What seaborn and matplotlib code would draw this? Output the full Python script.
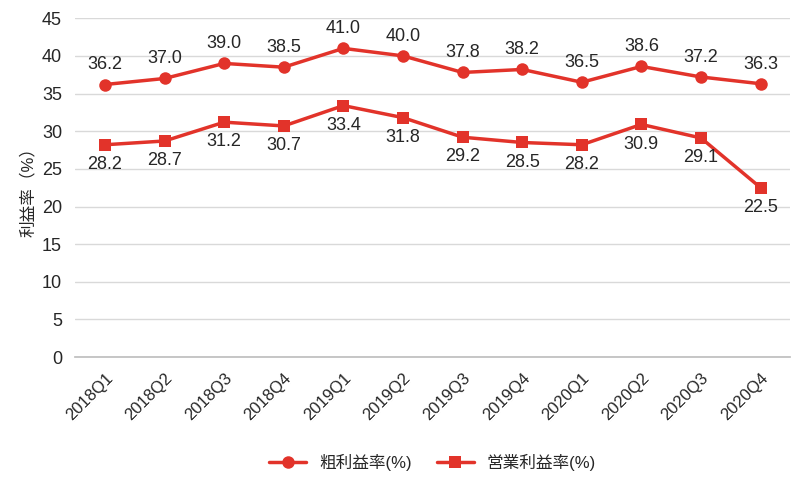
import matplotlib
matplotlib.use("Agg")
import matplotlib.pyplot as plt
import seaborn as sns
import pandas as pd

quarters = ["2018Q1", "2018Q2", "2018Q3", "2018Q4", "2019Q1", "2019Q2",
            "2019Q3", "2019Q4", "2020Q1", "2020Q2", "2020Q3", "2020Q4"]
gross = [36.2, 37.0, 39.0, 38.5, 41.0, 40.0, 37.8, 38.2, 36.5, 38.6, 37.2, 36.3]
operating = [28.2, 28.7, 31.2, 30.7, 33.4, 31.8, 29.2, 28.5, 28.2, 30.9, 29.1, 22.5]

sns.set_theme(style="white")
plt.rcParams['font.family'] = ['Liberation Sans', 'Noto Sans CJK JP']

df = pd.DataFrame({"q": list(range(len(quarters))) * 2,
                   "v": gross + operating,
                   "s": ["粗利益率(%)"] * 12 + ["営業利益率(%)"] * 12})

red = "#E2332A"
fig = plt.figure(figsize=(8, 4.8), dpi=100)
ax = fig.add_axes([0.094, 0.256, 0.894, 0.706])
sns.lineplot(data=df, x="q", y="v", hue="s", style="s",
             markers={"粗利益率(%)": "o", "営業利益率(%)": "s"}, dashes=False,
             palette={"粗利益率(%)": red, "営業利益率(%)": red},
             markersize=9, linewidth=2.5, markeredgewidth=0, ax=ax)

for i, (g, o) in enumerate(zip(gross, operating)):
    ax.annotate(f"{g:.1f}", (i, g), xytext=(0, 8), textcoords="offset points",
                ha="center", va="bottom", fontsize=13)
    ax.annotate(f"{o:.1f}", (i, o), xytext=(0, -8), textcoords="offset points",
                ha="center", va="top", fontsize=13)

ax.set_xlim(-0.5, 11.5)
ax.set_ylim(0, 45)
ax.set_yticks(range(0, 46, 5))
ax.set_xticks(range(len(quarters)))
ax.set_xticklabels(quarters, rotation=45, ha="right", rotation_mode="anchor", fontsize=12)
ax.tick_params(axis="y", labelsize=13)
ax.grid(axis="y", color="#d9d9d9", linewidth=1)
for sp in ["top", "right", "left"]:
    ax.spines[sp].set_visible(False)
ax.spines["bottom"].set_color("#bfbfbf")
ax.set_xlabel("")
ax.set_ylabel("利益率（%）", fontsize=12)

ax.legend(loc="upper center", bbox_to_anchor=(0.5, -0.24), ncol=2, frameon=False,
          fontsize=12, handlelength=2.2, columnspacing=1.5)

fig.savefig("out.png", dpi=100)
